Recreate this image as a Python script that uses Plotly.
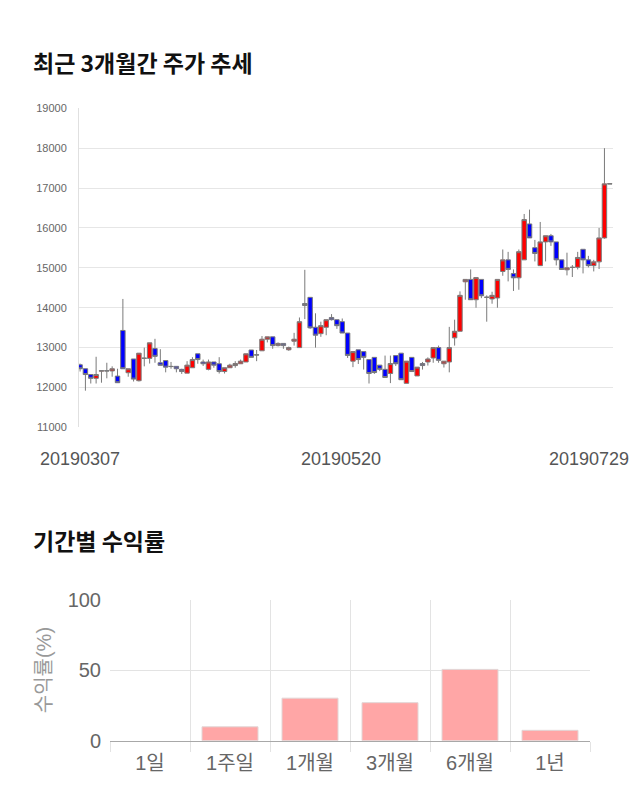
import pandas as pd
import plotly.graph_objects as go

# ---- stock data (trading days 2019-03-07 .. 2019-07-29) ----
holidays = ["2019-05-01", "2019-05-06", "2019-06-06"]
dates = [d.strftime("%Y%m%d") for d in pd.bdate_range("2019-03-07", "2019-07-29")
         if d.strftime("%Y-%m-%d") not in holidays]

opens = [12570, 12470, 12325, 12230, 12410, 12420, 12415, 12285, 13430, 12370,
         12715, 12170, 12730, 12730, 12975, 12620, 12675, 12530, 12530, 12455,
         12360, 12495, 12845, 12640, 12455, 12640, 12595, 12400, 12495, 12550,
         12595, 12640, 12940, 12820, 12920, 13210, 13270, 13050, 13105, 12945,
         13160, 13000, 14105, 14260, 13510, 13350, 13510, 13755, 13700, 13650,
         13365, 12660, 12945, 12900, 12700, 12755, 12560, 12455, 12350, 12800,
         12860, 12105, 12755, 12290, 12600, 12640, 12740, 13000, 12595, 12640,
         13245, 13410, 14650, 14710, 14200, 14710, 14265, 14220, 14245, 14910,
         15200, 14855, 14750, 15200, 16100, 15505, 15055, 15650, 15805, 15650,
         15200, 14950, 15015, 15015, 15465, 15200, 15055, 15150, 15750, 17100]
highs = [12600, 12470, 12325, 12770, 12420, 12620, 12530, 12470, 14220, 12470,
         12715, 12860, 13000, 13120, 13220, 12960, 12675, 12640, 12530, 12470,
         12660, 12760, 12845, 12700, 12700, 12640, 12760, 12495, 12595, 12660,
         12700, 12845, 12940, 12940, 13290, 13270, 13270, 13130, 13105, 13025,
         13370, 13755, 14950, 14260, 13860, 13650, 13700, 13840, 13700, 13730,
         13365, 12900, 12945, 12900, 12700, 12755, 12560, 12800, 12800, 12800,
         12860, 12660, 12755, 12510, 12640, 12755, 13000, 13050, 12660, 13520,
         13700, 14410, 14710, 14960, 14755, 14710, 14310, 14400, 14710, 15460,
         15400, 14960, 15460, 16350, 16460, 15700, 16150, 15805, 15850, 15650,
         15200, 15380, 15070, 15400, 15465, 15300, 15200, 16000, 18000, 17110]
lows = [12400, 11920, 12100, 12100, 12120, 12230, 12270, 12120, 12470, 12270,
        12150, 12150, 12530, 12600, 12620, 12555, 12380, 12470, 12380, 12340,
        12360, 12495, 12595, 12540, 12430, 12495, 12350, 12350, 12495, 12495,
        12595, 12640, 12755, 12660, 12920, 13130, 12970, 13030, 12970, 12920,
        13050, 13000, 13715, 13470, 13000, 13270, 13310, 13680, 13470, 13365,
        12740, 12510, 12590, 12450, 12100, 12340, 12410, 12250, 12110, 12540,
        12195, 12105, 12400, 12290, 12450, 12550, 12620, 12620, 12500, 12380,
        13050, 13410, 14200, 14200, 14000, 14240, 13650, 14100, 14000, 14800,
        14660, 14420, 14450, 15200, 15750, 15160, 15055, 15160, 15550, 15060,
        14950, 14810, 14770, 14960, 14860, 15010, 14910, 14970, 15730, 17100]
closes = [12470, 12325, 12230, 12325, 12420, 12415, 12470, 12120, 12470, 12470,
          12210, 12860, 12735, 13120, 12780, 12555, 12510, 12525, 12470, 12400,
          12560, 12700, 12700, 12595, 12640, 12560, 12400, 12495, 12560, 12600,
          12660, 12845, 12755, 12815, 13210, 13270, 13050, 13105, 13050, 13000,
          13210, 13650, 14055, 13495, 13310, 13550, 13700, 13700, 13550, 13365,
          12805, 12900, 12700, 12755, 12350, 12375, 12455, 12250, 12600, 12595,
          12195, 12660, 12400, 12510, 12550, 12715, 13000, 12680, 12660, 13000,
          13410, 14310, 14710, 14200, 14755, 14300, 14260, 14310, 14710, 15200,
          14960, 14750, 15405, 16210, 15750, 15360, 15650, 15805, 15650, 15200,
          14960, 15000, 15010, 15260, 15200, 15055, 15150, 15750, 17105, 17110]

price_ticks = [11000, 12000, 13000, 14000, 15000, 16000, 17000, 18000, 19000]
price_tick_text = [str(v) for v in price_ticks]
date_labels = ["20190307", "20190520", "20190729"]

# ---- period returns ----
periods = ["1일", "1주일", "1개월", "3개월", "6개월", "1년"]
returns = [0.0, 9.8, 30.1, 26.9, 50.5, 7.3]

W, H = 640, 810
def px_x(v): return v / W
def px_y(v): return 1 - v / H

FONT = "Arial, 'Liberation Sans', 'Noto Sans CJK KR', sans-serif"

fig = go.Figure()
fig.add_trace(go.Candlestick(
    x=dates, open=opens, high=highs, low=lows, close=closes,
    increasing=dict(fillcolor="#ff0000", line=dict(color="#7a7a7a", width=1)),
    decreasing=dict(fillcolor="#0000ff", line=dict(color="#7a7a7a", width=1)),
    whiskerwidth=0, xaxis="x", yaxis="y", showlegend=False, hoverinfo="skip"))

fig.add_trace(go.Bar(
    x=periods, y=returns, xaxis="x2", yaxis="y2", width=0.7,
    marker=dict(color="#ffa6a6",
                line=dict(color="#e2d6d6", width=[0 if v == 0 else 1 for v in returns])),
    showlegend=False, hoverinfo="skip"))

fig.update_layout(
    width=W, height=H, margin=dict(l=0, r=0, t=0, b=0),
    paper_bgcolor="white", plot_bgcolor="white", boxgap=0.17, boxgroupgap=0,
    font=dict(family=FONT, color="#666"),
    xaxis=dict(domain=[px_x(79), px_x(613)], anchor="y", type="category",
               range=[-0.2, 99.6], showticklabels=False, showgrid=False,
               zeroline=False, showline=False, ticks="",
               rangeslider=dict(visible=False)),
    yaxis=dict(domain=[px_y(428), px_y(100)], anchor="x", range=[11000, 19000],
               tickvals=price_ticks, ticktext=price_tick_text,
               showgrid=True, gridcolor="#e6e6e6",
               zeroline=False, showline=True, linecolor="#e0e0e0",
               tickfont=dict(size=11, color="#666", family=FONT),
               ticks="", ticklabelstandoff=9),
    xaxis2=dict(domain=[px_x(110), px_x(590)], anchor="y2", type="category",
                tickson="boundaries", showgrid=True, gridcolor="#e3e3e3",
                ticks="outside", ticklen=10, tickcolor="#e3e3e3",
                ticklabelstandoff=4,
                tickfont=dict(size=20, color="#666", family=FONT),
                showline=True, linecolor="#a8a8a8", zeroline=False),
    yaxis2=dict(domain=[px_y(750), px_y(605)], anchor="x2", range=[0, 100],
                tickvals=[0, 50, 100], showgrid=True, gridcolor="#e3e3e3",
                zeroline=False, showline=False, ticks="", ticklabelstandoff=8,
                tickfont=dict(size=20, color="#666", family=FONT),
                title=dict(text="수익률(%)", font=dict(size=20, color="#999", family=FONT),
                           standoff=10)),
)

annotations = [
    dict(text="<b>최근 3개월간 주가 추세</b>", x=px_x(31), y=px_y(52), xref="paper", yref="paper",
         xanchor="left", yanchor="middle", showarrow=False,
         font=dict(size=23, color="#111", family="'Noto Sans CJK KR', sans-serif")),
    dict(text="<b>기간별 수익률</b>", x=px_x(31), y=px_y(544), xref="paper", yref="paper",
         xanchor="left", yanchor="middle", showarrow=False,
         font=dict(size=23, color="#111", family="'Noto Sans CJK KR', sans-serif")),
]
shifts = {"20190307": ("center", 0), "20190520": ("center", -7), "20190729": ("right", 21)}
for lab in date_labels:
    anc, sh = shifts[lab]
    annotations.append(dict(text=lab, x=dates.index(lab), y=px_y(461), xref="x", yref="paper",
                            xanchor=anc, xshift=sh, yanchor="middle", showarrow=False,
                            font=dict(size=18, color="#555", family=FONT)))
fig.update_layout(annotations=annotations)

fig.write_html("out.html")
